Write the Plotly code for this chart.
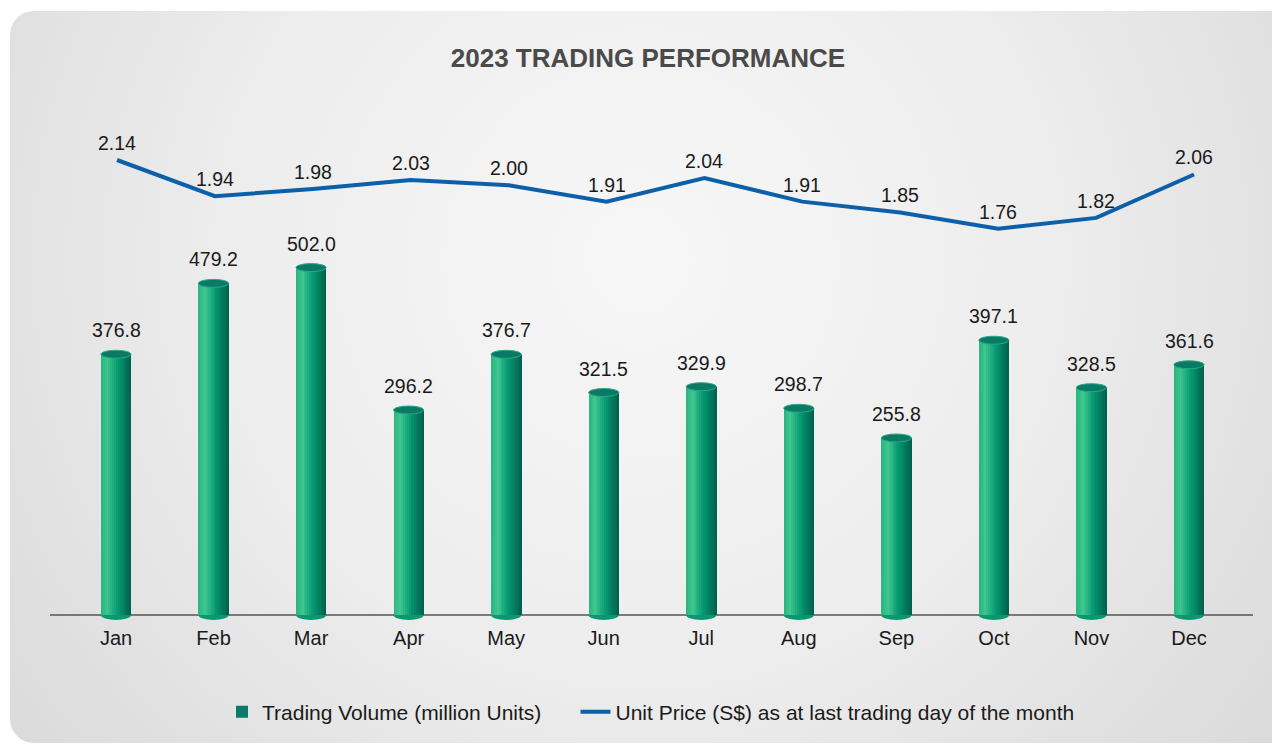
import base64
import plotly.graph_objects as go

months = ["Jan", "Feb", "Mar", "Apr", "May", "Jun", "Jul", "Aug", "Sep", "Oct", "Nov", "Dec"]
volume = [376.8, 479.2, 502.0, 296.2, 376.7, 321.5, 329.9, 298.7, 255.8, 397.1, 328.5, 361.6]
price = [2.14, 1.94, 1.98, 2.03, 2.00, 1.91, 2.04, 1.91, 1.85, 1.76, 1.82, 2.06]

W, H = 1280, 744
OFF = 8  # page body margin offset
AX = 615 - OFF          # baseline pixel in figure coords
L, R, T, B = 50 - OFF, 1280 - (1253 - OFF), 100 - OFF, 744 - (624 - OFF)
PW, PH = W - L - R, H - T - B

xs = list(range(len(months)))

# background card (rounded, soft grey gradient)
svg = f'''<svg xmlns="http://www.w3.org/2000/svg" width="{W}" height="{H}" viewBox="0 0 {W} {H}">
<defs><radialGradient id="g" gradientUnits="userSpaceOnUse" cx="632" cy="252" r="820">
<stop offset="0" stop-color="#f7f7f7"/><stop offset="0.5" stop-color="#ededed"/><stop offset="1" stop-color="#d9d9d9"/>
</radialGradient></defs>
<rect x="0" y="0" width="{W}" height="{H}" fill="#ffffff"/>
<rect x="{10 - OFF}" y="{11 - OFF}" width="1320" height="{743 - 11}" rx="24" ry="24" fill="url(#g)"/>
</svg>'''
src = "data:image/svg+xml;base64," + base64.b64encode(svg.encode()).decode()

fig = go.Figure()

def hex2rgb(h):
    h = h.lstrip("#")
    return tuple(int(h[i:i + 2], 16) for i in (0, 2, 4))

stops = [(0.0, "#2ab47d"), (0.22, "#3ec690"), (0.55, "#079a70"), (1.0, "#005f4d")]

def color_at(t):
    for (t0, c0), (t1, c1) in zip(stops[:-1], stops[1:]):
        if t0 <= t <= t1:
            f = (t - t0) / (t1 - t0)
            a, b = hex2rgb(c0), hex2rgb(c1)
            return "rgb(%d,%d,%d)" % tuple(round(a[i] + (b[i] - a[i]) * f) for i in range(3))
    return stops[-1][1]

BW = 0.31
N = 16
sw = BW / N
for k in range(N):
    fig.add_trace(go.Bar(
        x=xs, y=volume, width=sw * 1.15, offset=-BW / 2 + k * sw,
        marker=dict(color=color_at((k + 0.5) / N), line=dict(width=0)),
        showlegend=False, hoverinfo="skip", xaxis="x", yaxis="y",
    ))

# legend entry for volume
fig.add_trace(go.Bar(x=[0], y=[0], width=0.0001, marker=dict(color="#0b7a68", line=dict(width=0)),
                     name="Trading Volume (million Units)" + "\u00a0" * 5,
                     xaxis="x", yaxis="y", hoverinfo="skip"))

fig.add_trace(go.Scatter(
    x=xs, y=price, mode="lines", line=dict(color="#0c5fa9", width=4),
    name="Unit Price (S$) as at last trading day of the month", xaxis="x2", yaxis="y2",
))

shapes = [dict(type="line", xref="paper", x0=0, x1=1, yref="y", y0=0, y1=0,
               line=dict(color="#555555", width=1.5), layer="below")]
for i, v in zip(xs, volume):
    shapes.append(dict(type="circle", xref="x", yref="y", x0=i - BW / 2, x1=i + BW / 2,
                       ysizemode="pixel", yanchor=0, y0=-5, y1=5,
                       fillcolor="#0a9870", line=dict(width=0), layer="below"))
    shapes.append(dict(type="circle", xref="x", yref="y", x0=i - BW / 2, x1=i + BW / 2,
                       ysizemode="pixel", yanchor=v, y0=-4, y1=4,
                       fillcolor="#0a7a67", line=dict(color="#2aa882", width=1), layer="above"))

annotations = []
for i, v in zip(xs, volume):
    annotations.append(dict(x=i, y=v, xref="x", yref="y", text=f"{v:.1f}", showarrow=False,
                            yshift=24, yanchor="middle", font=dict(size=19.5, color="#1a1a1a")))
for i, p in zip(xs, price):
    annotations.append(dict(x=i, y=p, xref="x2", yref="y2", text=f"{p:.2f}", showarrow=False,
                            yshift=17, yanchor="middle", font=dict(size=19.5, color="#1a1a1a")))

# axis scaling (px per unit)
vol_ppu = 0.692
vol_range = [-(H - B - AX) / vol_ppu, (AX - T) / vol_ppu]
pr_ppu = 181.0
P0 = 160 - OFF
pr_range = [2.14 - (H - B - P0) / pr_ppu, 2.14 + (P0 - T) / pr_ppu]
bar_range = [-(116 - OFF - L) / 97.55, 11 + (L + PW - (1189 - OFF)) / 97.55]
line_range = [-(117 - OFF - L) / 97.9, 11 + (L + PW - (1194 - OFF)) / 97.9]

fig.update_layout(
    width=W, height=H,
    margin=dict(l=L, r=R, t=T, b=B),
    paper_bgcolor="#ffffff", plot_bgcolor="rgba(0,0,0,0)",
    barmode="overlay", bargap=0,
    font=dict(family="Liberation Sans, Arial, sans-serif", color="#1a1a1a"),
    title=dict(text="<b>2023 TRADING PERFORMANCE</b>", x=(648 - OFF) / W, xanchor="center",
               y=1 - (58 - OFF) / H, yanchor="middle", xref="container", yref="container",
               font=dict(size=26, color="#4a4a4a", family="Liberation Sans, Arial, sans-serif")),
    xaxis=dict(range=bar_range, tickmode="array", tickvals=xs, ticktext=months,
               showgrid=False, zeroline=False, showline=False, ticks="",
               tickfont=dict(size=20, color="#1a1a1a"), fixedrange=True),
    xaxis2=dict(range=line_range, overlaying="x", visible=False, fixedrange=True),
    yaxis=dict(range=vol_range, visible=False, fixedrange=True),
    yaxis2=dict(range=pr_range, overlaying="y", visible=False, fixedrange=True),
    showlegend=True,
    legend=dict(orientation="h", x=(651 - OFF - L) / PW, xanchor="center",
                y=-((712 - OFF) - (H - B)) / PH,
                yanchor="middle", font=dict(size=21, color="#1a1a1a"), bgcolor="rgba(0,0,0,0)"),
    shapes=shapes, annotations=annotations,
    images=[dict(source=src, xref="paper", yref="paper", x=-L / PW, y=1 + T / PH,
                 sizex=W / PW, sizey=H / PH, sizing="stretch", layer="below",
                 xanchor="left", yanchor="top")],
)

fig.write_html("out.html")
